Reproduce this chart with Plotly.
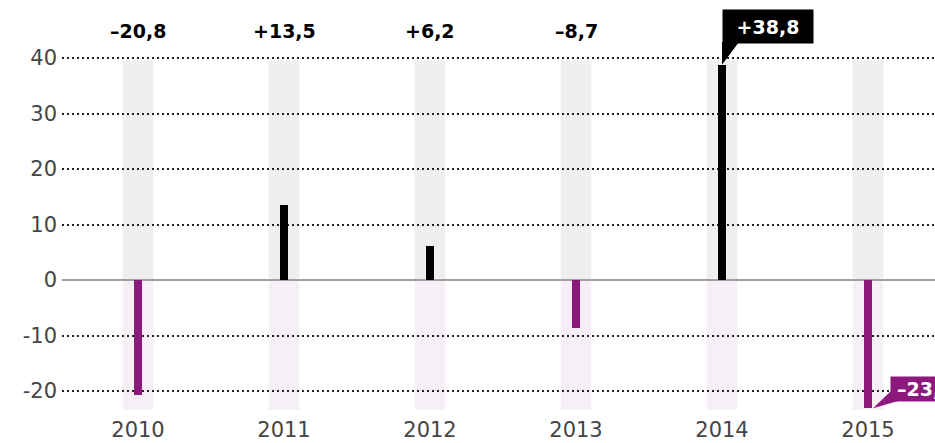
import plotly.graph_objects as go

years = ["2010", "2011", "2012", "2013", "2014", "2015"]
values = [-20.8, 13.5, 6.2, -8.7, 38.8, -23.1]
labels = ["–20,8", "+13,5", "+6,2", "–8,7", "+38,8", "–23,1"]
y_ticks = [-20, -10, 0, 10, 20, 30, 40]
y_tick_text = ["-20", "-10", "0", "10", "20", "30", "40"]

POS = "#000000"
NEG = "#8c1a7c"
FONT = "DejaVu Sans, sans-serif"
TICK_COLOR = "#454545"

W, H = 935, 443
ML, MR, MT, MB = 62, 0, 50, 28
Y0PX = 280          # pixel of zero
PXU = 5.55          # pixels per unit
YMAX = (Y0PX - MT) / PXU
YMIN = (Y0PX - (H - MB)) / PXU
XPX0, XSTEP = 138, 146
XMIN = (ML - XPX0) / XSTEP
XMAX = (W - MR - XPX0) / XSTEP
plot_h = H - MT - MB


def paper_y(val):
    return (val - YMIN) / (YMAX - YMIN)


def px_to_paper(py):
    return (H - MB - py) / plot_h


def px_to_x(px):
    return (px - XPX0) / XSTEP


xs = list(range(len(years)))
colors = [POS if v >= 0 else NEG for v in values]

fig = go.Figure()
fig.add_trace(go.Bar(x=xs, y=values, width=0.057, marker=dict(color=colors, line=dict(width=0)),
                     hoverinfo="skip", showlegend=False))

shapes = []
band_w = 0.105
for i in xs:
    shapes.append(dict(type="rect", xref="x", yref="y", x0=i - band_w, x1=i + band_w, y0=0, y1=39.6,
                       fillcolor="#efefef", line=dict(width=0), layer="below"))
    shapes.append(dict(type="rect", xref="x", yref="y", x0=i - band_w, x1=i + band_w, y0=YMIN + 0.9, y1=0,
                       fillcolor="#f6f0f6", line=dict(width=0), layer="below"))

annotations = []
for i, (v, t) in enumerate(zip(values, labels)):
    if i < 4:
        annotations.append(dict(x=i, y=px_to_paper(30.5), xref="x", yref="paper", text="<b>" + t + "</b>",
                                showarrow=False, font=dict(family=FONT, size=19, color="#000"),
                                xanchor="center", yanchor="middle"))

# 2014 callout (black box)
i = 4
annotations.append(dict(x=i, y=px_to_paper(26.5), xref="x", yref="paper", text="<b>" + labels[i] + "</b>",
                        showarrow=False, font=dict(family=FONT, size=19, color="#fff"), bgcolor=POS,
                        width=90, height=33, borderpad=0, xanchor="left", yanchor="middle", align="center"))
tip_y = paper_y(values[i])
shapes.append(dict(type="path", xref="x", yref="paper",
                   path=f"M {i} {tip_y} L {i} {px_to_paper(42)} L {i + 17 / XSTEP} {px_to_paper(42)} Z",
                   fillcolor=POS, line=dict(width=0), layer="above"))

# 2015 callout (purple box)
i = 5
annotations.append(dict(x=px_to_x(890), y=px_to_paper(388.5), xref="x", yref="paper",
                        text="\u00a0<b>" + labels[i] + "</b>", showarrow=False,
                        font=dict(family=FONT, size=19, color="#fff"), bgcolor=NEG,
                        width=90, height=24, borderpad=0, xanchor="left", yanchor="middle", align="left"))
tip_y = paper_y(values[i])
shapes.append(dict(type="path", xref="x", yref="paper",
                   path=(f"M {px_to_x(873)} {tip_y} L {px_to_x(892)} {px_to_paper(390)} "
                         f"L {px_to_x(905)} {px_to_paper(399)} Z"),
                   fillcolor=NEG, line=dict(width=0), layer="above"))

fig.update_layout(
    width=W, height=H,
    margin=dict(l=ML, r=MR, t=MT, b=MB, autoexpand=False),
    paper_bgcolor="#ffffff", plot_bgcolor="#ffffff",
    shapes=shapes, annotations=annotations,
    bargap=0,
    xaxis=dict(range=[XMIN, XMAX], tickvals=xs, ticktext=years, showgrid=False, zeroline=False,
               showline=False, ticks="", tickfont=dict(family=FONT, size=21, color=TICK_COLOR),
               fixedrange=True, automargin=False),
    yaxis=dict(range=[YMIN, YMAX], tickvals=y_ticks, ticktext=y_tick_text, showgrid=True,
               gridcolor="#222222", gridwidth=2, griddash="2px,3px",
               zeroline=True, zerolinecolor="#a0a0a0", zerolinewidth=1.5,
               showline=False, ticks="", tickfont=dict(family=FONT, size=21, color=TICK_COLOR),
               ticklabelstandoff=4,
               fixedrange=True, automargin=False),
)

fig.write_html("out.html")
